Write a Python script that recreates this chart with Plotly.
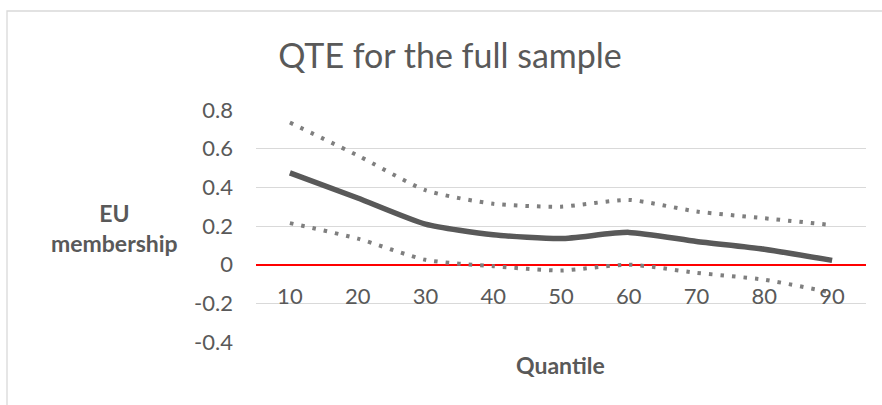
import plotly.graph_objects as go

# Quantile treatment effects of EU membership with confidence bounds
quantiles = ["10", "20", "30", "40", "50", "60", "70", "80", "90"]
qte = [0.475, 0.345, 0.21, 0.155, 0.135, 0.167, 0.12, 0.08, 0.022]
upper = [0.735, 0.565, 0.385, 0.315, 0.30, 0.335, 0.275, 0.24, 0.205]
lower = [0.215, 0.135, 0.025, -0.008, -0.03, 0.0, -0.042, -0.078, -0.145]
y_ticks = [-0.4, -0.2, 0, 0.2, 0.4, 0.6, 0.8]
y_tick_text = ["-0.4", "-0.2", "0", "0.2", "0.4", "0.6", "0.8"]

FONT = "Lato"
TEXT = "#595959"

fig = go.Figure()

for series in (upper, lower):
    fig.add_trace(go.Scatter(
        x=quantiles, y=series, mode="lines",
        line=dict(color="#7f7f7f", width=4, dash="3.5px,8px",
                  shape="spline", smoothing=0.6),
        hoverinfo="skip", showlegend=False,
    ))

fig.add_trace(go.Scatter(
    x=quantiles, y=qte, mode="lines",
    line=dict(color="#595959", width=5.5, shape="spline", smoothing=0.6),
    showlegend=False,
))

y_min, y_max = -0.4, 0.8

fig.update_layout(
    width=882, height=405,
    margin=dict(l=256, r=16, t=110, b=63),
    paper_bgcolor="white", plot_bgcolor="white",
    font=dict(family=FONT, color=TEXT),
    title=dict(text="QTE for the full sample", x=450 / 882, xanchor="center",
               y=1 - 56 / 405, yanchor="middle",
               font=dict(family=FONT, size=34, color=TEXT)),
    xaxis=dict(
        type="category", range=[-0.5, 8.5],
        anchor="free", position=(0 - y_min) / (y_max - y_min),
        showgrid=False, showline=False, zeroline=False,
        ticks="", ticklabelstandoff=16,
        tickfont=dict(family=FONT, size=22, color=TEXT),
    ),
    yaxis=dict(
        range=[y_min, y_max], tickvals=y_ticks, ticktext=y_tick_text,
        showgrid=True, gridcolor="#d9d9d9", gridwidth=1.3,
        zeroline=True, zerolinecolor="#ff0000", zerolinewidth=2,
        showline=False, ticks="", ticklabelstandoff=22,
        tickfont=dict(family=FONT, size=22, color=TEXT),
    ),
    shapes=[dict(
        type="rect", xref="paper", yref="paper",
        x0=(7 - 256) / 610, x1=1.1, y0=-0.5, y1=(342 - 11) / 232,
        line=dict(color="#d9d9d9", width=1.3), fillcolor="rgba(0,0,0,0)",
        layer="below",
    )],
    annotations=[
        dict(text="<b>EU<br>membership</b>", xref="paper", yref="paper",
             x=(114 - 256) / 610, y=(342 - 228) / 232,
             xanchor="center", yanchor="middle", showarrow=False,
             align="center",
             font=dict(family=FONT, size=23, color=TEXT)),
        dict(text="<b>Quantile</b>", xref="paper", yref="paper",
             x=(560 - 256) / 610, y=(342 - 365) / 232,
             xanchor="center", yanchor="middle", showarrow=False,
             font=dict(family=FONT, size=23, color=TEXT)),
    ],
)

fig.write_html("out.html")
